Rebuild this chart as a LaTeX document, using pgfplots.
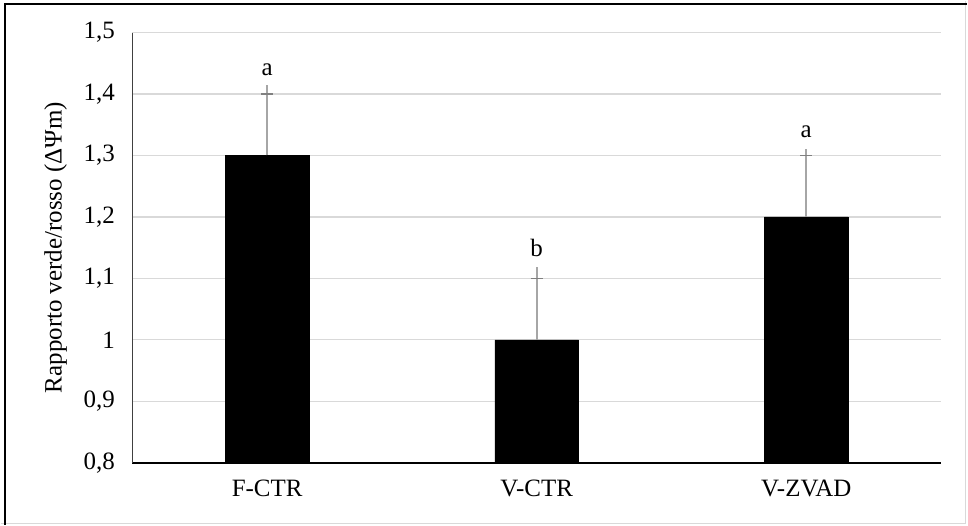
\documentclass[border=0pt]{standalone}
\usepackage{pgfplots}
\pgfplotsset{compat=1.18}
\usepackage{fontspec}
\setmainfont{Liberation Serif}
\definecolor{gridc}{HTML}{D9D9D9}
\definecolor{errc}{HTML}{A6A6A6}
\definecolor{capc}{HTML}{808080}
\definecolor{yaxc}{HTML}{404040}
\begin{document}
\begin{tikzpicture}[x=1pt,y=1pt]
\fill[white] (0,0) rectangle (968,525);
\draw[gridc, line width=1.2pt] (0,1.5) -- (966.5,1.5) -- (966.5,525);
\draw[black, line width=2pt] (4.5,0) -- (4.5,521.5) -- (968,521.5);
\begin{axis}[
  at={(132pt,62pt)}, anchor=south west,
  scale only axis, width=810pt, height=431pt,
  xmin=-0.5, xmax=2.5, ymin=0.8, ymax=1.5,
  xtick={0,1,2}, xticklabels={F-CTR,V-CTR,V-ZVAD},
  ytick={0.8,0.9,1.0,1.1,1.2,1.3,1.4,1.5},
  /pgf/number format/use comma,
  /pgf/number format/assume math mode=true,
  tick label style={font=\fontsize{25}{30}\selectfont},
  label style={font=\fontsize{25}{30}\selectfont},
  ylabel={Rapporto verde/rosso (ΔΨm)},
  ylabel style={at={(axis description cs:-0.095,0.5)}, anchor=center},
  yticklabel style={xshift=-14pt},
  xticklabel style={yshift=-14pt},
  major tick length=0pt,
  ymajorgrids, grid style={gridc, line width=1.2pt},
  axis x line*=bottom,
  axis y line*=left,
  x axis line style={draw=black, line width=1.6pt, -},
  y axis line style={draw=yaxc, line width=1.3pt, -},
  clip=false,
]
\addplot[ybar, bar width=84pt, fill=black, draw=black]
  coordinates {(0,1.3) (1,1.0) (2,1.2)};
\addplot[draw=none, mark=none, error bars/.cd, y dir=plus, y explicit,
  error mark=none, error bar style={errc, line width=1.8pt}]
  coordinates {(0,1.3) +- (0,0.114) (1,1.0) +- (0,0.118) (2,1.2) +- (0,0.11)};
\addplot[draw=none, mark=none, error bars/.cd, y dir=plus, y explicit,
  error bar style={errc, line width=1.8pt},
  error mark options={rotate=90, mark size=6pt, line width=1.6pt, draw=capc}]
  coordinates {(0,1.3) +- (0,0.1) (1,1.0) +- (0,0.1) (2,1.2) +- (0,0.1)};
\node[font=\fontsize{25}{30}\selectfont] at (axis cs:0,1.44) {a};
\node[font=\fontsize{25}{30}\selectfont] at (axis cs:1,1.15) {b};
\node[font=\fontsize{25}{30}\selectfont] at (axis cs:2,1.338) {a};
\end{axis}
\end{tikzpicture}
\end{document}
